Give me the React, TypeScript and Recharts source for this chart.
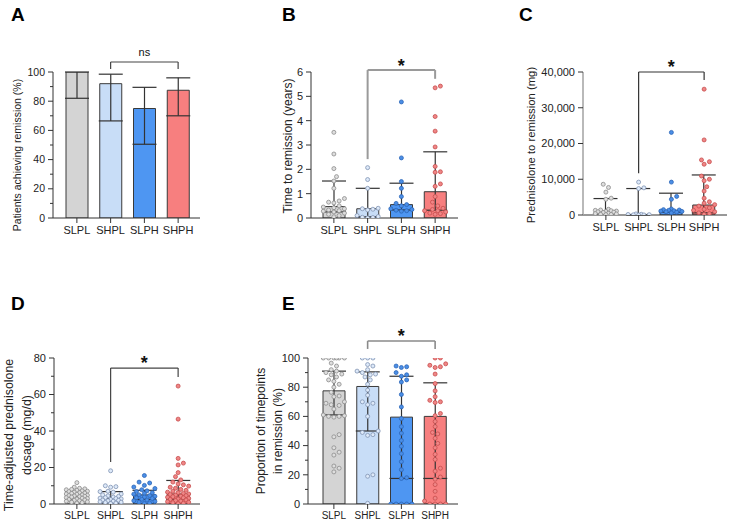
import React from 'react';
import { ComposedChart, Bar, ErrorBar, Scatter, XAxis, YAxis, ReferenceLine, ReferenceDot, Cell } from 'recharts';

const groups = ['SLPL', 'SHPL', 'SLPH', 'SHPH'];
const barFill = ['#d4d4d4', '#c8ddf7', '#4e96f2', '#f77f7f'];
const dotFill = ['#dedede', '#dde9f9', '#4a8ee6', '#ef8686'];
const dotStroke = ['#8c8c8c', '#8093b3', '#2c66b8', '#c64c4c'];

// A: patients achieving remission (%)
const remissionPct = [100, 92, 75, 87.5];
const remissionLo = [82, 66.5, 50.5, 70];
const remissionHi = [100, 98.5, 89.5, 96];

// B: time to remission (years)
const timeMedian = [0.47, 0.38, 0.55, 1.08];
const timeLo = [0.25, 0.05, 0.33, 0.32];
const timeHi = [1.52, 1.22, 1.43, 2.72];
const timeSLPL = [3.52, 2.63, 2.03, 1.7, 1.52, 1.22, 0.8, 0.7, 0.65, 0.62, 0.5, 0.45, 0.42, 0.38, 0.33, 0.3, 0.28, 0.25, 0.2, 0.15, 0.1, 0.05];
const timeSHPL = [2.07, 1.58, 1.22, 0.4, 0.38, 0.36, 0.33, 0.1, 0.06, 0.03, 0.02, 0.0];
const timeSLPH = [4.77, 2.47, 1.5, 1.22, 0.88, 0.6, 0.55, 0.5, 0.38, 0.35, 0.32, 0.3, 0.28];
const timeSHPH = [5.42, 5.35, 4.17, 3.57, 2.92, 2.12, 1.9, 1.88, 1.4, 1.3, 0.88, 0.65, 0.5, 0.4, 0.35, 0.3, 0.3, 0.25, 0.2, 0.18, 0.15];

// C: prednisolone to remission (mg)
const predMedian = [1100, 150, 1300, 2800];
const predLo = [400, 0, 800, 600];
const predHi = [4600, 7400, 6100, 11200];
const predSLPL = [8600, 7700, 6400, 4700, 4400, 1600, 1400, 1300, 1200, 1100, 1000, 900, 800, 700, 500, 400, 300, 200, 150, 100];
const predSHPL = [9200, 7600, 7400, 300, 200, 150, 100, 60, 30, 0];
const predSLPH = [23100, 9200, 5200, 4400, 1700, 1500, 1400, 1300, 1200, 1100, 1000, 900, 800, 600];
const predSHPH = [35200, 21000, 15400, 14900, 14200, 10900, 10000, 9600, 7900, 6700, 4700, 3700, 3300, 2900, 2500, 2000, 1600, 1300, 900, 600, 400, 200];

// D: time-adjusted prednisolone dosage (mg/d)
const doseMedian = [4.5, 3.0, 5.0, 5.5];
const doseLo = [2.2, 1.2, 2.5, 2.5];
const doseHi = [7.0, 6.8, 7.5, 12.9];
const doseSLPL = [11.7, 9.2, 8.6, 8.3, 8.0, 7.8, 7.5, 7.2, 7.0, 6.8, 6.5, 6.2, 6.0, 5.8, 5.5, 5.3, 5.0, 4.8, 4.6, 4.4, 4.2, 4.0, 3.8, 3.5, 3.2, 3.0, 2.8, 2.5, 2.2, 2.0, 1.8, 1.5, 1.2, 1.0, 0.8, 0.5];
const doseSHPL = [18.2, 10.0, 9.5, 9.2, 7.0, 6.8, 6.5, 5.5, 5.0, 4.5, 4.2, 3.8, 3.5, 3.2, 3.0, 2.8, 2.5, 2.2, 2.0, 1.8, 1.5, 1.2, 1.0, 0.8, 0.5, 0.3];
const doseSLPH = [15.6, 12.0, 11.5, 10.2, 9.3, 8.5, 7.8, 7.2, 6.8, 6.2, 5.8, 5.4, 5.0, 4.6, 4.2, 3.8, 3.4, 3.0, 2.6, 2.2, 1.8, 1.4, 1.0, 0.6, 0.3];
const doseSHPH = [64.6, 46.5, 25.0, 22.4, 21.4, 17.2, 15.0, 13.2, 12.0, 11.0, 10.5, 9.8, 9.2, 8.6, 8.0, 7.5, 7.0, 6.5, 6.2, 5.8, 5.5, 5.2, 4.9, 4.6, 4.3, 4.0, 3.7, 3.4, 3.1, 2.8, 2.5, 2.2, 1.9, 1.6, 1.3, 1.0, 0.7, 0.4, 0.2];

// E: proportion of timepoints in remission (%)
const propMedian = [77.5, 80.5, 59.5, 60];
const propLo = [61, 50, 17.5, 17.5];
const propHi = [91, 90.5, 87.5, 83];
const propSLPL = [100, 100, 100, 100, 100, 100, 96.5, 94.5, 92, 91, 90, 89, 88.5, 87, 85, 84, 82, 80, 76.5, 74, 73.5, 70, 69, 68, 67.5, 65, 61, 60.5, 60, 60, 59.5, 47.5, 46, 38.5, 35.5, 33.5, 26, 24.5, 22];
const propSHPL = [100, 100, 100, 95.5, 94.5, 92, 91, 90, 89, 88.5, 87, 85, 82, 78, 74.5, 70, 69, 68, 60, 50, 49, 47.5, 47, 20, 19, 0.5];
const propSLPH = [94.5, 94, 93.5, 90, 88.5, 87.5, 85, 83.5, 75, 66.5, 58.5, 53, 48.5, 43.5, 39.5, 34.5, 29, 23.5, 18, 17.5, 0, 0, 0, 0, 0];
const propSHPH = [100, 100, 96, 95, 94, 93.5, 89, 82.5, 77.5, 73.5, 71, 70, 69.5, 62, 60.5, 56.5, 53, 49, 48, 45, 41.5, 38.5, 34, 30.5, 24.5, 22.5, 18.5, 17, 13.3, 8.7, 4, 2, 0, 0, 0, 0];

const FONT = '"Liberation Sans", Arial, sans-serif';

// spread points sideways so they don't overlap (pixel space)
function swarm(vals: number[], pxY: number, pxX: number, d: number, maxHalf: number) {
  const order = vals.map((_, i) => i).sort((a, b) => vals[a] - vals[b]);
  const placed: { x: number; y: number }[] = [];
  const off = new Array(vals.length).fill(0);
  const step = d * 0.55;
  const n = Math.floor(maxHalf / step);
  for (const i of order) {
    const y = vals[i] * pxY;
    let best = 0;
    let bestScore = -Infinity;
    for (let k = 0; k <= 2 * n; k++) {
      const s = k === 0 ? 0 : (k % 2 ? 1 : -1) * Math.ceil(k / 2) * step;
      let minD = Infinity;
      for (const p of placed) {
        const dd = Math.hypot(p.x - s, p.y - y);
        if (dd < minD) minD = dd;
      }
      if (minD >= d) { best = s; break; }
      if (minD > bestScore) { bestScore = minD; best = s; }
    }
    placed.push({ x: best, y });
    off[i] = best / pxX;
  }
  return off;
}

type Bracket = { top: number; l: number; r: number; text: string; ty: number; color: string; width: number; fs: number; bold: boolean };

type PanelProps = {
  rect: { x: number; y: number; w: number; h: number };
  pad: { left: number; right: number };
  yMax: number;
  ticks: number[];
  isMajor: (v: number) => boolean;
  fmt?: (v: number) => string;
  bars: number[];
  lo: number[];
  hi: number[];
  dots?: number[][];
  bracket: Bracket;
  yFs: number;
  xFs: number;
  yAxisColor?: string;
};

const Panel = ({ rect, pad, yMax, ticks, isMajor, fmt, bars, lo, hi, dots, bracket, yFs, xFs, yAxisColor }: PanelProps) => {
  const data = groups.map((g, i) => ({ name: g, v: bars[i], err: [bars[i] - lo[i], hi[i] - bars[i]] }));
  const band = (rect.w - pad.left - pad.right) / 4;
  const pxY = rect.h / yMax;
  const dotSets = (dots || []).map((vals, g) => {
    const off = swarm(vals, pxY, band, 4.8, 12);
    return vals.map((v, j) => ({ x: g + off[j], y: v }));
  });
  const ML = 50;
  const MT = 32;
  const YTick = (p: any) => {
    const ax = p.x + 8;
    const major = isMajor(p.payload.value);
    return (
      <g>
        <line x1={ax} x2={ax - (major ? 5 : 3)} y1={p.y} y2={p.y} stroke="#333" strokeWidth={1} />
        {major && (
          <text x={p.x} y={p.y} dy="0.35em" textAnchor="end" fontSize={yFs} fill="#222" fontFamily={FONT}>
            {fmt ? fmt(p.payload.value) : p.payload.value}
          </text>
        )}
      </g>
    );
  };
  const b = bracket;
  return (
    <div style={{ position: 'absolute', left: rect.x - ML, top: rect.y - MT }}>
      <ComposedChart width={rect.w + ML + 6} height={rect.h + MT + 26} data={data} margin={{ top: MT, right: 6, left: 0, bottom: 0 }}>
        <XAxis dataKey="name" type="category" padding={pad} height={26} tickSize={5} tickMargin={3}
          axisLine={{ stroke: '#333' }} tickLine={{ stroke: '#333' }} tick={{ fontSize: xFs, fill: '#222', fontFamily: FONT }} interval={0} />
        <XAxis xAxisId="num" type="number" dataKey="x" domain={[-0.5, 3.5]} padding={pad} hide allowDataOverflow />
        <YAxis type="number" domain={[0, yMax]} ticks={ticks} width={ML} tickSize={5} tickMargin={3} allowDataOverflow interval={0}
          axisLine={{ stroke: yAxisColor || '#333', strokeWidth: yAxisColor ? 1.6 : 1 }} tickLine={false} tick={YTick} />
        <Bar dataKey="v" barSize={22} stroke="#3a3a3a" strokeWidth={1} isAnimationActive={false}>
          {data.map((d, i) => <Cell key={d.name} fill={barFill[i]} />)}
          <ErrorBar dataKey="err" width={12} stroke="#333" strokeWidth={1.2} direction="y" />
        </Bar>
        {dotSets.map((pts, g) => (
          <Scatter key={g} xAxisId="num" data={pts} dataKey="y" isAnimationActive={false}
            shape={(p: any) => <circle cx={p.cx} cy={p.cy} r={2} fill={dotFill[g]} stroke={dotStroke[g]} strokeWidth={0.8} />} />
        ))}
        <ReferenceLine segment={[{ x: 'SHPL', y: b.top }, { x: 'SHPH', y: b.top }]} stroke={b.color} strokeWidth={b.width} ifOverflow="visible" />
        <ReferenceLine segment={[{ x: 'SHPL', y: b.l }, { x: 'SHPL', y: b.top }]} stroke={b.color} strokeWidth={b.width} ifOverflow="visible" />
        <ReferenceLine segment={[{ x: 'SHPH', y: b.r }, { x: 'SHPH', y: b.top }]} stroke={b.color} strokeWidth={b.width} ifOverflow="visible" />
        <ReferenceDot x="SLPH" y={b.ty} ifOverflow="visible"
          shape={(p: any) => (
            <text x={p.cx} y={p.cy} textAnchor="middle" fontSize={b.fs} fontWeight={b.bold ? 'bold' : 'normal'} fill="#111" fontFamily={FONT}>{b.text}</text>
          )} />
      </ComposedChart>
    </div>
  );
};

const Letter = ({ x, y, t }: { x: number; y: number; t: string }) => (
  <div style={{ position: 'absolute', left: x, top: y, fontSize: 19, fontWeight: 'bold', lineHeight: '19px', fontFamily: FONT, color: '#000' }}>{t}</div>
);

const Title = ({ cx, cy, fs, lines, lh }: { cx: number; cy: number; fs: number; lines: string[]; lh?: number }) => (
  <div style={{
    position: 'absolute', left: cx, top: cy, transform: 'translate(-50%, -50%) rotate(-90deg)', whiteSpace: 'nowrap',
    textAlign: 'center', fontSize: fs, lineHeight: `${lh || fs * 1.2}px`, fontFamily: FONT, color: '#222',
  }}>
    {lines.map((l) => <div key={l}>{l}</div>)}
  </div>
);

const range = (a: number, b: number, s: number) => {
  const out: number[] = [];
  for (let v = a; v <= b + 1e-9; v += s) out.push(v);
  return out;
};

export default function App() {
  return (
    <div style={{ position: 'absolute', left: 0, top: 0, width: 732, height: 525, background: '#fff', overflow: 'hidden', fontFamily: FONT }}>
      <Letter x={11} y={5} t="A" />
      <Letter x={282} y={5} t="B" />
      <Letter x={519} y={5} t="C" />
      <Letter x={11} y={294} t="D" />
      <Letter x={282} y={294} t="E" />

      <Title cx={17} cy={155} fs={10.5} lines={['Patients achieving remission (%)']} />
      <Title cx={288} cy={146} fs={12} lines={['Time to remission (years)']} />
      <Title cx={532} cy={145} fs={11.3} lines={['Prednisolone to remission (mg)']} />
      <Title cx={18} cy={435} fs={12.4} lh={17.5} lines={['Time-adjusted prednisolone', 'dosage (mg/d)']} />
      <Title cx={270} cy={431} fs={12} lh={17} lines={['Proportion of timepoints', 'in remission (%)']} />

      <Panel rect={{ x: 53, y: 72, w: 147, h: 146 }} pad={{ left: 7, right: 5 }} yMax={100} ticks={range(0, 100, 10)}
        isMajor={(v) => v % 20 === 0} bars={remissionPct} lo={remissionLo} hi={remissionHi} yFs={10.5} xFs={11}
        bracket={{ top: 106.85, l: 102, r: 102, text: 'ns', ty: 111, color: '#444', width: 1.2, fs: 11, bold: false }} />

      <Panel rect={{ x: 311, y: 72, w: 147, h: 146 }} pad={{ left: 6, right: 6 }} yMax={6} ticks={range(0, 6, 1)}
        isMajor={() => true} bars={timeMedian} lo={timeLo} hi={timeHi} yFs={11} xFs={11}
        dots={[timeSLPL, timeSHPL, timeSLPH, timeSHPH]}
        bracket={{ top: 6.08, l: 2.42, r: 5.72, text: '*', ty: 6.0, color: '#9a9a9a', width: 2, fs: 18, bold: true }} />

      <Panel rect={{ x: 583, y: 72, w: 144, h: 143 }} pad={{ left: 6.5, right: 6.5 }} yMax={40000} ticks={range(0, 40000, 10000)}
        isMajor={() => true} fmt={(v) => v.toLocaleString('en-US')} bars={predMedian} lo={predLo} hi={predHi} yFs={11} xFs={11}
        dots={[predSLPL, predSHPL, predSLPH, predSHPH]} yAxisColor="#a8a8a8"
        bracket={{ top: 40000, l: 11700, r: 37760, text: '*', ty: 39720, color: '#333', width: 1.2, fs: 18, bold: true }} />

      <Panel rect={{ x: 54, y: 358, w: 146, h: 146 }} pad={{ left: 6, right: 5 }} yMax={80} ticks={range(0, 80, 10)}
        isMajor={(v) => v % 20 === 0} bars={doseMedian} lo={doseLo} hi={doseHi} yFs={11} xFs={10.5}
        dots={[doseSLPL, doseSHPL, doseSLPH, doseSHPH]}
        bracket={{ top: 74.5, l: 23, r: 69.6, text: '*', ty: 73.75, color: '#444', width: 1.2, fs: 18, bold: true }} />

      <Panel rect={{ x: 308, y: 358, w: 150, h: 146 }} pad={{ left: 9, right: 6 }} yMax={100} ticks={range(0, 100, 10)}
        isMajor={(v) => v % 20 === 0} bars={propMedian} lo={propLo} hi={propHi} yFs={11} xFs={10}
        dots={[propSLPL, propSHPL, propSLPH, propSHPH]}
        bracket={{ top: 111.6, l: 106.2, r: 106.2, text: '*', ty: 111, color: '#8a8a8a', width: 1.6, fs: 18, bold: true }} />
    </div>
  );
}
